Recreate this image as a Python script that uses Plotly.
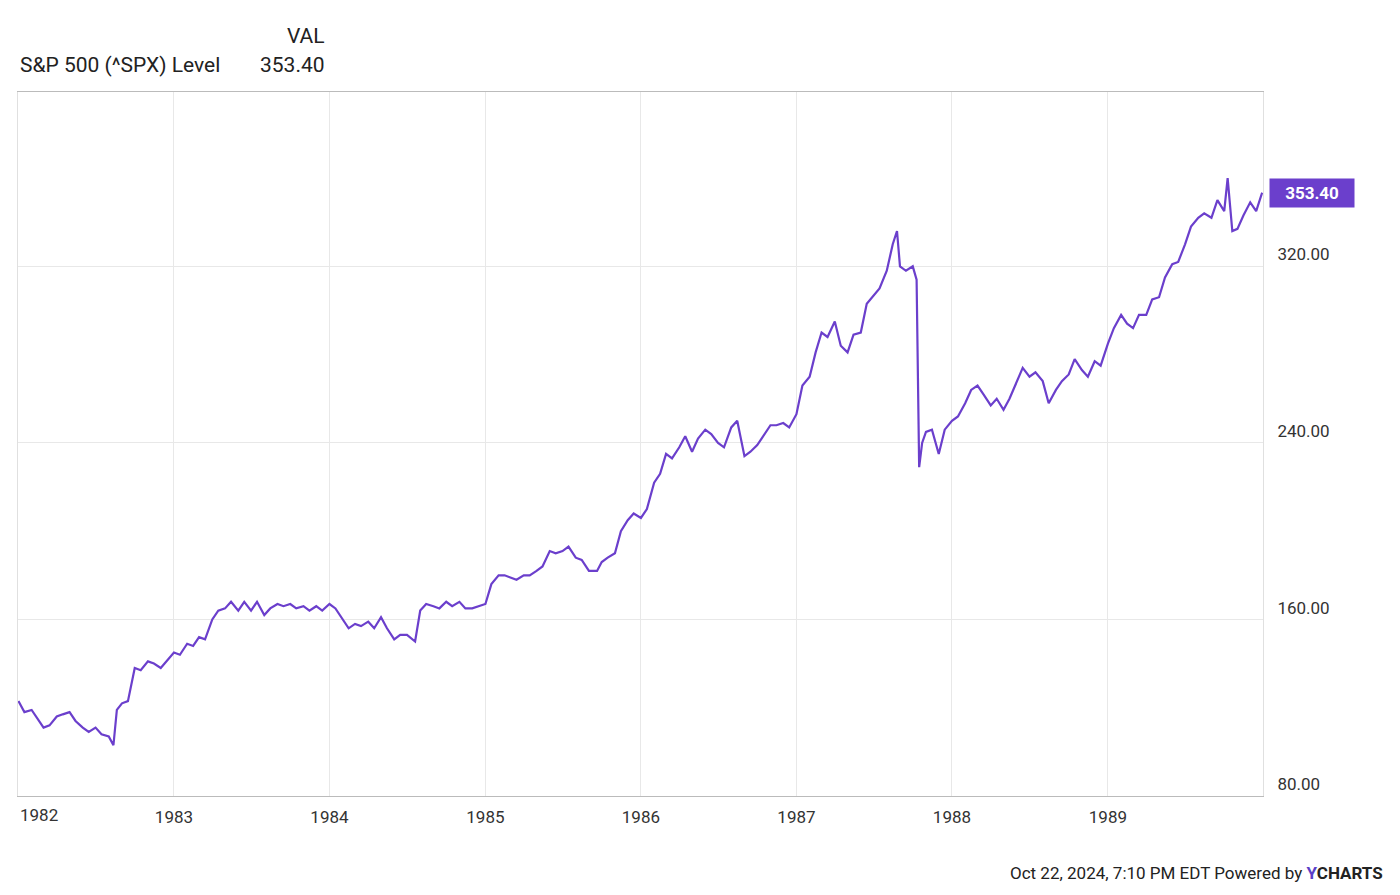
import plotly.graph_objects as go

dates = [
"1982-01-01","1982-01-15","1982-02-01","1982-02-15","1982-03-01","1982-03-15","1982-04-01","1982-04-15","1982-05-01","1982-05-15","1982-06-01","1982-06-15","1982-07-01","1982-07-15","1982-08-01","1982-08-12","1982-08-20","1982-09-01","1982-09-15","1982-10-01","1982-10-15","1982-11-01","1982-11-15","1982-12-01","1982-12-15",
"1983-01-01","1983-01-15","1983-02-01","1983-02-15","1983-03-01","1983-03-15","1983-04-01","1983-04-15","1983-05-01","1983-05-15","1983-06-01","1983-06-15","1983-07-01","1983-07-15","1983-08-01","1983-08-15","1983-09-01","1983-09-15","1983-10-01","1983-10-15","1983-11-01","1983-11-15","1983-12-01","1983-12-15",
"1984-01-01","1984-01-15","1984-02-01","1984-02-15","1984-03-01","1984-03-15","1984-04-01","1984-04-15","1984-05-01","1984-05-15","1984-06-01","1984-06-15","1984-07-01","1984-07-20","1984-08-01","1984-08-15","1984-09-01","1984-09-15","1984-10-01","1984-10-15","1984-11-01","1984-11-15","1984-12-01","1984-12-15",
"1985-01-01","1985-01-15","1985-02-01","1985-02-15","1985-03-01","1985-03-15","1985-04-01","1985-04-15","1985-05-01","1985-05-15","1985-06-01","1985-06-15","1985-07-01","1985-07-15","1985-08-01","1985-08-15","1985-09-01","1985-09-20","1985-10-01","1985-10-15","1985-11-01","1985-11-15","1985-12-01","1985-12-15",
"1986-01-01","1986-01-15","1986-02-01","1986-02-15","1986-03-01","1986-03-15","1986-04-01","1986-04-15","1986-05-01","1986-05-15","1986-06-01","1986-06-15","1986-07-01","1986-07-15","1986-08-01","1986-08-15","1986-09-01","1986-09-15","1986-10-01","1986-10-15","1986-11-01","1986-11-15","1986-12-01","1986-12-15",
"1987-01-01","1987-01-15","1987-02-01","1987-02-15","1987-03-01","1987-03-15","1987-04-01","1987-04-15","1987-05-01","1987-05-15","1987-06-01","1987-06-15","1987-07-01","1987-07-15","1987-08-01","1987-08-15","1987-08-25","1987-09-01","1987-09-15","1987-10-01","1987-10-10","1987-10-16","1987-10-23","1987-11-01","1987-11-15","1987-12-01","1987-12-15",
"1988-01-01","1988-01-15","1988-02-01","1988-02-15","1988-03-01","1988-03-15","1988-04-01","1988-04-15","1988-05-01","1988-05-15","1988-06-01","1988-06-15","1988-07-01","1988-07-15","1988-08-01","1988-08-15","1988-09-01","1988-09-15","1988-10-01","1988-10-15","1988-11-01","1988-11-15","1988-12-01","1988-12-15",
"1989-01-01","1989-01-15","1989-02-01","1989-02-15","1989-03-01","1989-03-15","1989-04-01","1989-04-15","1989-05-01","1989-05-15","1989-06-01","1989-06-15","1989-07-01","1989-07-15","1989-08-01","1989-08-15","1989-09-01","1989-09-15","1989-10-01","1989-10-09","1989-10-20","1989-11-01","1989-11-15","1989-12-01","1989-12-15","1989-12-29"]

values = [
123,118,119,115,111,112,116,117,118,114,111,109,111,108,107,103,119,122,123,138,137,141,140,138,141,
145,144,149,148,152,151,160,164,165,168,164,168,164,168,162,165,167,166,167,165,166,164,166,164,
167,165,160,156,158,157,159,156,161,156,151,153,153,150,164,167,166,165,168,166,168,165,165,166,
167,176,180,180,179,178,180,180,182,184,191,190,191,193,188,187,182,182,186,188,190,200,205,208,
206,210,222,226,235,233,238,243,236,242,246,244,240,238,247,250,234,236,239,243,248,248,249,247,
253,266,270,281,290,288,295,284,281,289,290,303,307,310,318,330,336,320,318,320,314,229,240,245,246,235,246,
250,252,258,264,266,262,257,260,255,260,268,274,270,272,268,258,264,268,271,278,273,270,277,275,
285,292,298,294,292,298,298,305,306,315,321,322,330,338,342,344,342,350,345,360,336,337,343,349,345,353.4]

fig = go.Figure(go.Scatter(x=dates, y=values, mode="lines",
                           line=dict(color="#6b3fcc", width=2.2),
                           hoverinfo="skip"))

tickvals = ["1982-01-01","1983-01-01","1984-01-01","1985-01-01","1986-01-01","1987-01-01","1988-01-01","1989-01-01"]
ticktext = ["", "1983","1984","1985","1986","1987","1988","1989"]

fig.update_layout(
    width=1400, height=895, paper_bgcolor="white", plot_bgcolor="white",
    margin=dict(l=10, r=145, t=84, b=107), showlegend=False,
    font=dict(family="Roboto", color="#333", size=17),
    xaxis=dict(range=["1981-12-31","1989-12-31"], tickvals=tickvals, ticktext=ticktext,
               showgrid=True, gridcolor="#e8e8e8", zeroline=False, ticks="", automargin=False,
               showline=True, linecolor="#bbb", mirror=True, ticklabelstandoff=6),
    yaxis=dict(range=[80, 399], side="right", tickvals=[80,160,240,320],
               ticktext=["80.00","160.00","240.00","320.00"], showgrid=True, automargin=False,
               gridcolor="#e8e8e8", zeroline=False, ticks="", showline=True,
               linecolor="#e0e0e0", mirror=True, ticklabelstandoff=10, ticklabelposition="outside top"),
)
fig.add_annotation(xref="paper", yref="paper", x=0, y=0, yshift=-7, text="1982", showarrow=False,
                   xanchor="left", yanchor="top", font=dict(size=17, color="#333"))
fig.add_annotation(xref="paper", yref="y", x=1.0, y=353.4, text="<b>353.40</b>", showarrow=False,
                   xanchor="left", xshift=6, bgcolor="#6b3fcc", font=dict(color="white", size=17),
                   borderpad=4, width=76)
fig.add_annotation(xref="paper", yref="paper", x=0.2485, y=1.06, text="VAL", showarrow=False,
                   xanchor="right", yanchor="bottom", font=dict(size=21, color="#222"))
fig.add_annotation(xref="paper", yref="paper", x=0.0, y=1.018, text="S&P 500 (^SPX) Level", showarrow=False,
                   xanchor="left", yanchor="bottom", font=dict(size=21, color="#222"))
fig.add_annotation(xref="paper", yref="paper", x=0.2485, y=1.018, text="353.40", showarrow=False,
                   xanchor="right", yanchor="bottom", font=dict(size=21, color="#222"))
fig.add_annotation(xref="paper", yref="paper", x=1.098, y=-0.093, text="Oct 22, 2024, 7:10 PM EDT Powered by <b><span style='color:#5b3fc7'>Y</span>CHARTS</b>",
                   showarrow=False, xanchor="right", yanchor="top", font=dict(size=17, color="#222"))
fig.write_html("out.html")
